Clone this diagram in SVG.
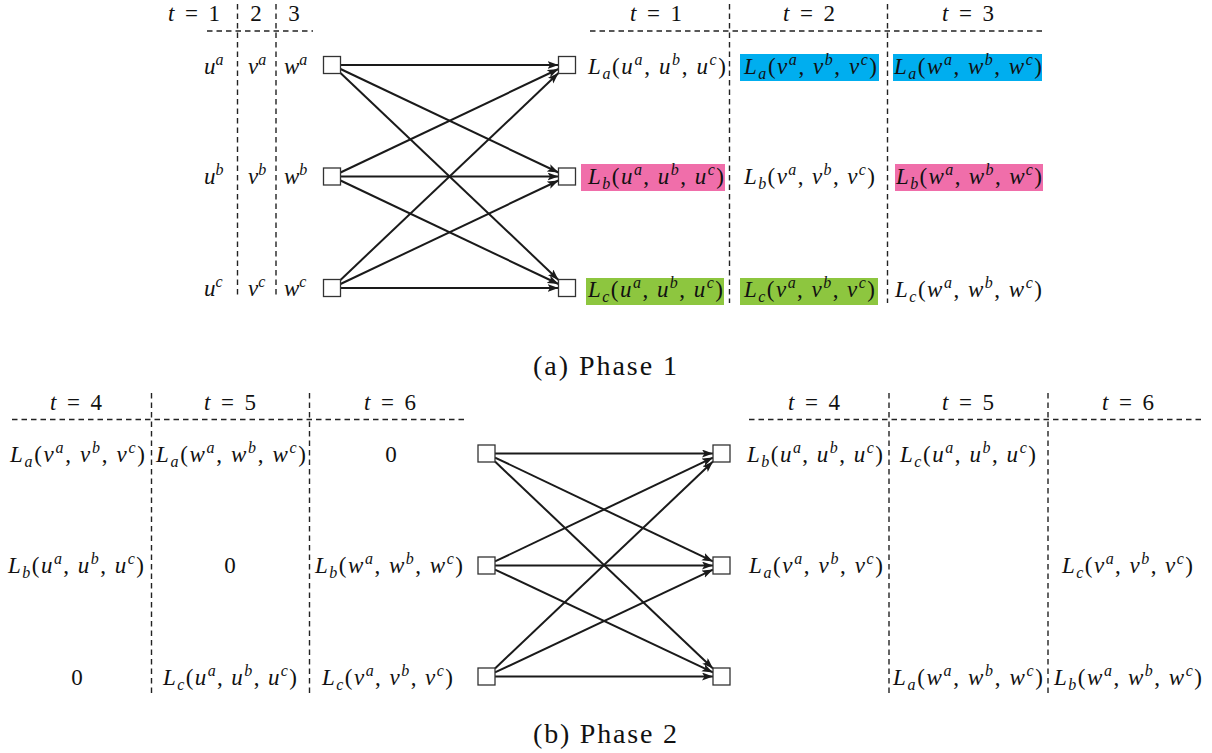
<svg xmlns="http://www.w3.org/2000/svg" width="1212" height="753" viewBox="0 0 1212 753">
<style>
.t{font-family:'Liberation Serif','DejaVu Serif',serif;font-size:23px;fill:#111}
.i{font-style:italic}
.s{font-size:16px}
.cap{font-family:'Liberation Serif','DejaVu Serif',serif;font-size:28px;fill:#111}
.d{stroke:#222;stroke-width:1.4;stroke-dasharray:5.5 4;fill:none}
.box{fill:#fff;stroke:#333;stroke-width:1.3}
.e{stroke:#1a1a1a;stroke-width:2;fill:none;marker-end:url(#ah)}
</style>
<defs>
<marker id="ah" markerUnits="userSpaceOnUse" markerWidth="12" markerHeight="9" refX="11" refY="4" orient="auto">
<path d="M0,0 L11,4 L0,8 L2.5,4 z" fill="#1a1a1a"/>
</marker>
</defs>
<rect width="1212" height="753" fill="#fff"/>

<g id="grid1">
<line class="d" x1="237.5" y1="4" x2="237.5" y2="298"/>
<line class="d" x1="276" y1="4" x2="276" y2="298"/>
<line class="d" x1="207" y1="31" x2="313" y2="31"/>
<line class="d" x1="590" y1="31" x2="1043" y2="31"/>
<line class="d" x1="729.5" y1="4" x2="729.5" y2="303"/>
<line class="d" x1="887.5" y1="4" x2="887.5" y2="303"/>
</g>
<g id="highlights1">
<rect x="740" y="54" width="139" height="27" fill="#00AEEF"/>
<rect x="893" y="54" width="149" height="27" fill="#00AEEF"/>
<rect x="581" y="164" width="144" height="27" fill="#F06EAA"/>
<rect x="895" y="164" width="148" height="27" fill="#F06EAA"/>
<rect x="586" y="278" width="138" height="27" fill="#8DC63F"/>
<rect x="740" y="278" width="138" height="27" fill="#8DC63F"/>
</g>
<g id="headers1" class="t" font-family="Liberation Serif, serif">
<text x="168" y="21" textLength="52" lengthAdjust="spacing"><tspan class="i">t</tspan> = 1</text>
<text x="256" y="21" text-anchor="middle">2</text>
<text x="294" y="21" text-anchor="middle">3</text>
<text x="630" y="21" textLength="52" lengthAdjust="spacing"><tspan class="i">t</tspan> = 1</text>
<text x="783" y="21" textLength="52" lengthAdjust="spacing"><tspan class="i">t</tspan> = 2</text>
<text x="942" y="21" textLength="52" lengthAdjust="spacing"><tspan class="i">t</tspan> = 3</text>
</g>
<g id="inputs1" class="t">
<text x="204" y="73.5" class="i">u<tspan class="s" dy="-9">a</tspan></text>
<text x="248" y="73.5" class="i">v<tspan class="s" dy="-9">a</tspan></text>
<text x="284" y="73.5" class="i">w<tspan class="s" dy="-9">a</tspan></text>
<text x="204" y="184" class="i">u<tspan class="s" dy="-9">b</tspan></text>
<text x="248" y="184" class="i">v<tspan class="s" dy="-9">b</tspan></text>
<text x="284" y="184" class="i">w<tspan class="s" dy="-9">b</tspan></text>
<text x="204" y="295.5" class="i">u<tspan class="s" dy="-9">c</tspan></text>
<text x="248" y="295.5" class="i">v<tspan class="s" dy="-9">c</tspan></text>
<text x="284" y="295.5" class="i">w<tspan class="s" dy="-9">c</tspan></text>
</g>

<g id="connectors1">
<line class="e" x1="340.5" y1="65" x2="558.5" y2="65"/>
<line class="e" x1="340.5" y1="69" x2="558.5" y2="172.5"/>
<line class="e" x1="340.5" y1="73.1" x2="558.5" y2="279.9"/>
<line class="e" x1="340.5" y1="172.5" x2="558.5" y2="69"/>
<line class="e" x1="340.5" y1="176.5" x2="558.5" y2="176.5"/>
<line class="e" x1="340.5" y1="180.5" x2="558.5" y2="284"/>
<line class="e" x1="340.5" y1="279.9" x2="558.5" y2="73.1"/>
<line class="e" x1="340.5" y1="284" x2="558.5" y2="180.5"/>
<line class="e" x1="340.5" y1="288" x2="558.5" y2="288"/>
</g>
<g id="p1-left-a"><rect class="box" x="323.5" y="56.5" width="17" height="17"/></g>
<g id="p1-left-b"><rect class="box" x="323.5" y="168" width="17" height="17"/></g>
<g id="p1-left-c"><rect class="box" x="323.5" y="279.5" width="17" height="17"/></g>
<g id="p1-right-a"><rect class="box" x="558.5" y="56.5" width="17" height="17"/></g>
<g id="p1-right-b"><rect class="box" x="558.5" y="168" width="17" height="17"/></g>
<g id="p1-right-c"><rect class="box" x="558.5" y="279.5" width="17" height="17"/></g>

<g id="outputs1" class="t">
<text x="588" y="73.5" textLength="138" lengthAdjust="spacing"><tspan class="i">L</tspan><tspan class="s i" dy="5">a</tspan><tspan dy="-5">(</tspan><tspan class="i">u</tspan><tspan class="s i" dy="-9">a</tspan><tspan dy="9">, </tspan><tspan class="i">u</tspan><tspan class="s i" dy="-9">b</tspan><tspan dy="9">, </tspan><tspan class="i">u</tspan><tspan class="s i" dy="-9">c</tspan><tspan dy="9">)</tspan></text>
<text x="744" y="73.5" textLength="133" lengthAdjust="spacing"><tspan class="i">L</tspan><tspan class="s i" dy="5">a</tspan><tspan dy="-5">(</tspan><tspan class="i">v</tspan><tspan class="s i" dy="-9">a</tspan><tspan dy="9">, </tspan><tspan class="i">v</tspan><tspan class="s i" dy="-9">b</tspan><tspan dy="9">, </tspan><tspan class="i">v</tspan><tspan class="s i" dy="-9">c</tspan><tspan dy="9">)</tspan></text>
<text x="894" y="73.5" textLength="148" lengthAdjust="spacing"><tspan class="i">L</tspan><tspan class="s i" dy="5">a</tspan><tspan dy="-5">(</tspan><tspan class="i">w</tspan><tspan class="s i" dy="-9">a</tspan><tspan dy="9">, </tspan><tspan class="i">w</tspan><tspan class="s i" dy="-9">b</tspan><tspan dy="9">, </tspan><tspan class="i">w</tspan><tspan class="s i" dy="-9">c</tspan><tspan dy="9">)</tspan></text>
<text x="588" y="184" textLength="136" lengthAdjust="spacing"><tspan class="i">L</tspan><tspan class="s i" dy="5">b</tspan><tspan dy="-5">(</tspan><tspan class="i">u</tspan><tspan class="s i" dy="-9">a</tspan><tspan dy="9">, </tspan><tspan class="i">u</tspan><tspan class="s i" dy="-9">b</tspan><tspan dy="9">, </tspan><tspan class="i">u</tspan><tspan class="s i" dy="-9">c</tspan><tspan dy="9">)</tspan></text>
<text x="744" y="184" textLength="131" lengthAdjust="spacing"><tspan class="i">L</tspan><tspan class="s i" dy="5">b</tspan><tspan dy="-5">(</tspan><tspan class="i">v</tspan><tspan class="s i" dy="-9">a</tspan><tspan dy="9">, </tspan><tspan class="i">v</tspan><tspan class="s i" dy="-9">b</tspan><tspan dy="9">, </tspan><tspan class="i">v</tspan><tspan class="s i" dy="-9">c</tspan><tspan dy="9">)</tspan></text>
<text x="896" y="184" textLength="146" lengthAdjust="spacing"><tspan class="i">L</tspan><tspan class="s i" dy="5">b</tspan><tspan dy="-5">(</tspan><tspan class="i">w</tspan><tspan class="s i" dy="-9">a</tspan><tspan dy="9">, </tspan><tspan class="i">w</tspan><tspan class="s i" dy="-9">b</tspan><tspan dy="9">, </tspan><tspan class="i">w</tspan><tspan class="s i" dy="-9">c</tspan><tspan dy="9">)</tspan></text>
<text x="588" y="297" textLength="135" lengthAdjust="spacing"><tspan class="i">L</tspan><tspan class="s i" dy="5">c</tspan><tspan dy="-5">(</tspan><tspan class="i">u</tspan><tspan class="s i" dy="-9">a</tspan><tspan dy="9">, </tspan><tspan class="i">u</tspan><tspan class="s i" dy="-9">b</tspan><tspan dy="9">, </tspan><tspan class="i">u</tspan><tspan class="s i" dy="-9">c</tspan><tspan dy="9">)</tspan></text>
<text x="744" y="297" textLength="131" lengthAdjust="spacing"><tspan class="i">L</tspan><tspan class="s i" dy="5">c</tspan><tspan dy="-5">(</tspan><tspan class="i">v</tspan><tspan class="s i" dy="-9">a</tspan><tspan dy="9">, </tspan><tspan class="i">v</tspan><tspan class="s i" dy="-9">b</tspan><tspan dy="9">, </tspan><tspan class="i">v</tspan><tspan class="s i" dy="-9">c</tspan><tspan dy="9">)</tspan></text>
<text x="895" y="297" textLength="147" lengthAdjust="spacing"><tspan class="i">L</tspan><tspan class="s i" dy="5">c</tspan><tspan dy="-5">(</tspan><tspan class="i">w</tspan><tspan class="s i" dy="-9">a</tspan><tspan dy="9">, </tspan><tspan class="i">w</tspan><tspan class="s i" dy="-9">b</tspan><tspan dy="9">, </tspan><tspan class="i">w</tspan><tspan class="s i" dy="-9">c</tspan><tspan dy="9">)</tspan></text>
</g>
<text id="caption-a" class="cap" x="533" y="375" textLength="144" lengthAdjust="spacing">(a) Phase 1</text>

<g id="grid2">
<line class="d" x1="12" y1="419.5" x2="464" y2="419.5"/>
<line class="d" x1="151.5" y1="393" x2="151.5" y2="693"/>
<line class="d" x1="309.5" y1="393" x2="309.5" y2="693"/>
<line class="d" x1="749" y1="419.5" x2="1203" y2="419.5"/>
<line class="d" x1="889" y1="393" x2="889" y2="693"/>
<line class="d" x1="1048" y1="393" x2="1048" y2="693"/>
</g>
<g id="headers2" class="t">
<text x="50" y="410" textLength="52" lengthAdjust="spacing"><tspan class="i">t</tspan> = 4</text>
<text x="204" y="410" textLength="52" lengthAdjust="spacing"><tspan class="i">t</tspan> = 5</text>
<text x="364" y="410" textLength="52" lengthAdjust="spacing"><tspan class="i">t</tspan> = 6</text>
<text x="788" y="410" textLength="52" lengthAdjust="spacing"><tspan class="i">t</tspan> = 4</text>
<text x="942" y="410" textLength="52" lengthAdjust="spacing"><tspan class="i">t</tspan> = 5</text>
<text x="1102" y="410" textLength="52" lengthAdjust="spacing"><tspan class="i">t</tspan> = 6</text>
</g>
<g id="inputs2" class="t">
<text x="10" y="462" textLength="135" lengthAdjust="spacing"><tspan class="i">L</tspan><tspan class="s i" dy="5">a</tspan><tspan dy="-5">(</tspan><tspan class="i">v</tspan><tspan class="s i" dy="-9">a</tspan><tspan dy="9">, </tspan><tspan class="i">v</tspan><tspan class="s i" dy="-9">b</tspan><tspan dy="9">, </tspan><tspan class="i">v</tspan><tspan class="s i" dy="-9">c</tspan><tspan dy="9">)</tspan></text>
<text x="156" y="462" textLength="150" lengthAdjust="spacing"><tspan class="i">L</tspan><tspan class="s i" dy="5">a</tspan><tspan dy="-5">(</tspan><tspan class="i">w</tspan><tspan class="s i" dy="-9">a</tspan><tspan dy="9">, </tspan><tspan class="i">w</tspan><tspan class="s i" dy="-9">b</tspan><tspan dy="9">, </tspan><tspan class="i">w</tspan><tspan class="s i" dy="-9">c</tspan><tspan dy="9">)</tspan></text>
<text x="391" y="462" text-anchor="middle">0</text>
<text x="8" y="573" textLength="136" lengthAdjust="spacing"><tspan class="i">L</tspan><tspan class="s i" dy="5">b</tspan><tspan dy="-5">(</tspan><tspan class="i">u</tspan><tspan class="s i" dy="-9">a</tspan><tspan dy="9">, </tspan><tspan class="i">u</tspan><tspan class="s i" dy="-9">b</tspan><tspan dy="9">, </tspan><tspan class="i">u</tspan><tspan class="s i" dy="-9">c</tspan><tspan dy="9">)</tspan></text>
<text x="230" y="573" text-anchor="middle">0</text>
<text x="315" y="573" textLength="148" lengthAdjust="spacing"><tspan class="i">L</tspan><tspan class="s i" dy="5">b</tspan><tspan dy="-5">(</tspan><tspan class="i">w</tspan><tspan class="s i" dy="-9">a</tspan><tspan dy="9">, </tspan><tspan class="i">w</tspan><tspan class="s i" dy="-9">b</tspan><tspan dy="9">, </tspan><tspan class="i">w</tspan><tspan class="s i" dy="-9">c</tspan><tspan dy="9">)</tspan></text>
<text x="77" y="685" text-anchor="middle">0</text>
<text x="163" y="685" textLength="134" lengthAdjust="spacing"><tspan class="i">L</tspan><tspan class="s i" dy="5">c</tspan><tspan dy="-5">(</tspan><tspan class="i">u</tspan><tspan class="s i" dy="-9">a</tspan><tspan dy="9">, </tspan><tspan class="i">u</tspan><tspan class="s i" dy="-9">b</tspan><tspan dy="9">, </tspan><tspan class="i">u</tspan><tspan class="s i" dy="-9">c</tspan><tspan dy="9">)</tspan></text>
<text x="322" y="685" textLength="131" lengthAdjust="spacing"><tspan class="i">L</tspan><tspan class="s i" dy="5">c</tspan><tspan dy="-5">(</tspan><tspan class="i">v</tspan><tspan class="s i" dy="-9">a</tspan><tspan dy="9">, </tspan><tspan class="i">v</tspan><tspan class="s i" dy="-9">b</tspan><tspan dy="9">, </tspan><tspan class="i">v</tspan><tspan class="s i" dy="-9">c</tspan><tspan dy="9">)</tspan></text>
</g>

<g id="connectors2">
<line class="e" x1="495" y1="453.5" x2="713" y2="453.5"/>
<line class="e" x1="495" y1="457.55" x2="713" y2="561.45"/>
<line class="e" x1="495" y1="461.57" x2="713" y2="668.43"/>
<line class="e" x1="495" y1="561.45" x2="713" y2="457.55"/>
<line class="e" x1="495" y1="565.5" x2="713" y2="565.5"/>
<line class="e" x1="495" y1="569.55" x2="713" y2="672.45"/>
<line class="e" x1="495" y1="668.43" x2="713" y2="461.57"/>
<line class="e" x1="495" y1="672.45" x2="713" y2="569.55"/>
<line class="e" x1="495" y1="676.5" x2="713" y2="676.5"/>
</g>
<g id="p2-left-a"><rect class="box" x="478" y="445" width="17" height="17"/></g>
<g id="p2-left-b"><rect class="box" x="478" y="557" width="17" height="17"/></g>
<g id="p2-left-c"><rect class="box" x="478" y="668" width="17" height="17"/></g>
<g id="p2-right-a"><rect class="box" x="713" y="445" width="17" height="17"/></g>
<g id="p2-right-b"><rect class="box" x="713" y="557" width="17" height="17"/></g>
<g id="p2-right-c"><rect class="box" x="713" y="668" width="17" height="17"/></g>

<g id="outputs2" class="t">
<text x="747" y="462" textLength="136" lengthAdjust="spacing"><tspan class="i">L</tspan><tspan class="s i" dy="5">b</tspan><tspan dy="-5">(</tspan><tspan class="i">u</tspan><tspan class="s i" dy="-9">a</tspan><tspan dy="9">, </tspan><tspan class="i">u</tspan><tspan class="s i" dy="-9">b</tspan><tspan dy="9">, </tspan><tspan class="i">u</tspan><tspan class="s i" dy="-9">c</tspan><tspan dy="9">)</tspan></text>
<text x="900" y="462" textLength="136" lengthAdjust="spacing"><tspan class="i">L</tspan><tspan class="s i" dy="5">c</tspan><tspan dy="-5">(</tspan><tspan class="i">u</tspan><tspan class="s i" dy="-9">a</tspan><tspan dy="9">, </tspan><tspan class="i">u</tspan><tspan class="s i" dy="-9">b</tspan><tspan dy="9">, </tspan><tspan class="i">u</tspan><tspan class="s i" dy="-9">c</tspan><tspan dy="9">)</tspan></text>
<text x="749" y="573" textLength="134" lengthAdjust="spacing"><tspan class="i">L</tspan><tspan class="s i" dy="5">a</tspan><tspan dy="-5">(</tspan><tspan class="i">v</tspan><tspan class="s i" dy="-9">a</tspan><tspan dy="9">, </tspan><tspan class="i">v</tspan><tspan class="s i" dy="-9">b</tspan><tspan dy="9">, </tspan><tspan class="i">v</tspan><tspan class="s i" dy="-9">c</tspan><tspan dy="9">)</tspan></text>
<text x="1062" y="573" textLength="131" lengthAdjust="spacing"><tspan class="i">L</tspan><tspan class="s i" dy="5">c</tspan><tspan dy="-5">(</tspan><tspan class="i">v</tspan><tspan class="s i" dy="-9">a</tspan><tspan dy="9">, </tspan><tspan class="i">v</tspan><tspan class="s i" dy="-9">b</tspan><tspan dy="9">, </tspan><tspan class="i">v</tspan><tspan class="s i" dy="-9">c</tspan><tspan dy="9">)</tspan></text>
<text x="893" y="685" textLength="150" lengthAdjust="spacing"><tspan class="i">L</tspan><tspan class="s i" dy="5">a</tspan><tspan dy="-5">(</tspan><tspan class="i">w</tspan><tspan class="s i" dy="-9">a</tspan><tspan dy="9">, </tspan><tspan class="i">w</tspan><tspan class="s i" dy="-9">b</tspan><tspan dy="9">, </tspan><tspan class="i">w</tspan><tspan class="s i" dy="-9">c</tspan><tspan dy="9">)</tspan></text>
<text x="1054" y="685" textLength="148" lengthAdjust="spacing"><tspan class="i">L</tspan><tspan class="s i" dy="5">b</tspan><tspan dy="-5">(</tspan><tspan class="i">w</tspan><tspan class="s i" dy="-9">a</tspan><tspan dy="9">, </tspan><tspan class="i">w</tspan><tspan class="s i" dy="-9">b</tspan><tspan dy="9">, </tspan><tspan class="i">w</tspan><tspan class="s i" dy="-9">c</tspan><tspan dy="9">)</tspan></text>
</g>
<text id="caption-b" class="cap" x="533" y="743" textLength="144" lengthAdjust="spacing">(b) Phase 2</text>
</svg>
